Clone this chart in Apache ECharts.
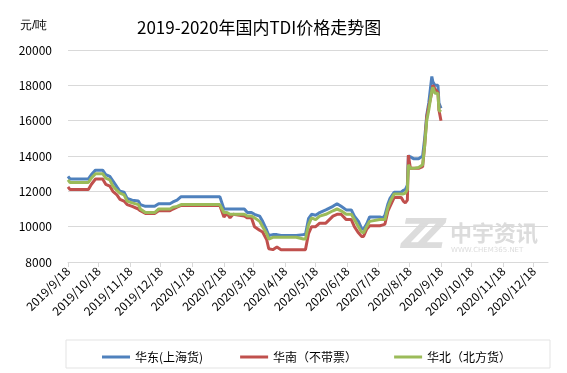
<!DOCTYPE html>
<html>
<head>
<meta charset="utf-8">
<script src="https://cdn.jsdelivr.net/npm/echarts@6/dist/echarts.min.js"></script>
<style>html,body{margin:0;padding:0;background:#fff}#c{width:567px;height:373px}</style>
</head>
<body>
<div id="c"></div>
<script>
var titleText = '2019-2020年国内TDI价格走势图';
var unitText = '元/吨';
var seriesNames = ['华东(上海货)', '华南（不带票）', '华北（北方货）'];
var dates = [
'2019-09-18','2019-09-20','2019-10-08','2019-10-11','2019-10-15','2019-10-22','2019-10-25','2019-10-29',
'2019-11-01','2019-11-05','2019-11-08','2019-11-12','2019-11-15','2019-11-20','2019-11-26','2019-11-28',
'2019-12-03','2019-12-12','2019-12-16','2019-12-27','2019-12-30','2020-01-03','2020-01-07','2020-02-14',
'2020-02-18','2020-02-21','2020-02-24','2020-02-27','2020-03-09','2020-03-12','2020-03-16','2020-03-19',
'2020-03-24','2020-03-27','2020-03-31','2020-04-02','2020-04-06','2020-04-10','2020-04-14','2020-04-29',
'2020-04-30','2020-05-06','2020-05-08','2020-05-11','2020-05-14','2020-05-18','2020-05-22','2020-05-28',
'2020-06-04','2020-06-08','2020-06-12','2020-06-17','2020-06-22','2020-06-25','2020-06-29','2020-07-02',
'2020-07-04','2020-07-07','2020-07-10','2020-07-20','2020-07-23','2020-07-25','2020-07-28','2020-07-30',
'2020-08-03','2020-08-10','2020-08-12','2020-08-14','2020-08-16','2020-08-17','2020-08-19','2020-08-22',
'2020-08-27','2020-08-31','2020-09-02','2020-09-04','2020-09-06','2020-09-09','2020-09-10','2020-09-12',
'2020-09-15','2020-09-16','2020-09-18'
];
var eastValues = [
12850,12700,12700,12950,13200,13200,12950,12850,
12600,12250,12000,11950,11600,11500,11450,11250,
11150,11150,11300,11300,11400,11500,11700,11700,
11000,11000,11000,11000,11000,10800,10800,10700,
10600,10300,9800,9500,9550,9550,9500,9500,
9600,9550,9550,10450,10700,10650,10800,10950,
11150,11300,11150,10950,10950,10600,10300,9900,
9850,10150,10550,10550,10500,10650,11300,11600,
11950,11950,12050,12100,12350,14000,13950,13850,
13850,14000,15000,16300,17000,18500,18200,18000,
18000,17000,16700
];
var southValues = [
12250,12100,12100,12400,12700,12700,12400,12300,
12000,11800,11550,11450,11250,11150,11000,10900,
10750,10750,10900,10900,11000,11100,11200,11200,
10550,10750,10500,10700,10600,10500,10500,10000,
9800,9700,9250,8750,8700,8850,8700,8700,
8700,8700,8700,9600,10000,10000,10200,10200,
10600,10700,10700,10400,10400,10000,9650,9450,
9450,9850,10050,10050,10100,10150,10900,11150,
11650,11650,11450,11350,11500,14050,13300,13300,
13300,13400,14600,16200,16800,17600,18000,17800,
17600,16600,16000
];
var northValues = [
12650,12500,12500,12750,13000,13000,12750,12650,
12300,12050,11900,11800,11450,11350,11250,11000,
10800,10800,11000,11000,11100,11150,11250,11250,
10800,10800,10700,10700,10700,10600,10600,10500,
10300,10000,9600,9300,9400,9400,9400,9400,
9400,9300,9300,10100,10500,10400,10600,10700,
10900,11000,10900,10700,10700,10400,10000,9700,
9650,10000,10300,10400,10400,10400,11100,11400,
11850,11850,11850,11900,12100,13500,13300,13300,
13350,13500,14600,16000,16600,17700,17900,17550,
17550,16600,16500
];
var yMin = 8000, yMax = 20000, yStep = 2000;
var tickMonths = [[2019,9],[2019,10],[2019,11],[2019,12],[2020,1],[2020,2],[2020,3],[2020,4],[2020,5],[2020,6],[2020,7],[2020,8],[2020,9],[2020,10],[2020,11],[2020,12]];

function ts(s){var p=s.split('-');return Date.UTC(+p[0],+p[1]-1,+p[2]);}
var tickValues = tickMonths.map(function(m){return Date.UTC(m[0],m[1]-1,18);});
function pairs(vals){return dates.map(function(d,i){return [ts(d),vals[i]];});}

var chart = echarts.init(document.getElementById('c'), null, {renderer:'canvas'});
var font = '"Noto Sans CJK SC", "Noto Sans", sans-serif';
var colors = ['#4f81bd','#c0504d','#9bbb59'];
chart.setOption({
  animation:false,
  color: colors,
  textStyle:{fontFamily:font},
  title:{text:titleText,left:132,top:14,textStyle:{fontSize:17,fontWeight:'normal',color:'#000',fontFamily:font}},
  grid:{left:68,right:19,top:50,bottom:111,containLabel:false},
  legend:{
    data:seriesNames, left:97, top:346, itemWidth:28, itemHeight:3, itemGap:37,
    icon:'rect', textStyle:{fontSize:12,color:'#000',fontFamily:font}
  },
  xAxis:{
    type:'value', min:ts('2019-09-18'), max:ts('2021-01-01'),
    axisLine:{show:true,lineStyle:{color:'#d9d9d9',width:1}},
    axisTick:{show:true,customValues:tickValues,length:5,lineStyle:{color:'#d9d9d9'}},
    splitLine:{show:false},
    axisLabel:{customValues:tickValues,rotate:45,fontSize:12,color:'#000',margin:7,fontFamily:font,
      formatter:function(v){var d=new Date(v);return d.getUTCFullYear()+'/'+(d.getUTCMonth()+1)+'/'+d.getUTCDate();}}
  },
  yAxis:{
    type:'value', min:yMin, max:yMax, interval:yStep,
    axisLine:{show:false}, axisTick:{show:false},
    splitLine:{lineStyle:{color:'#d9d9d9',width:1}},
    axisLabel:{fontSize:12,color:'#000',margin:16,fontFamily:font,formatter:function(v){return String(v);}}
  },
  graphic:[
    {type:'text',left:20,top:20,style:{text:unitText,fontSize:12,fill:'#000',font:'12px '+font}},
    {type:'rect',shape:{x:66,y:340,width:484,height:28},style:{fill:'none',stroke:'#e3e3e3',lineWidth:1}},
    {type:'text',left:401,top:218,style:{text:'Z',font:'italic bold 40px "DejaVu Sans", sans-serif',fill:'#dcdcdc'}},
    {type:'text',left:417,top:218,style:{text:'Z',font:'italic bold 40px "DejaVu Sans", sans-serif',fill:'#dcdcdc'}},
    {type:'text',left:450,top:222,style:{text:'中宇资讯',font:'bold 22px "Noto Sans CJK SC", sans-serif',fill:'#dcdcdc'}},
    {type:'text',left:451,top:247,style:{text:'WWW.CHEM365.NET',font:'7px "DejaVu Sans", sans-serif',fill:'#dcdcdc'}}
  ],
  series:[
    {name:seriesNames[0],type:'line',data:pairs(eastValues),showSymbol:false,lineStyle:{width:3},z:2},
    {name:seriesNames[1],type:'line',data:pairs(southValues),showSymbol:false,lineStyle:{width:3},z:3},
    {name:seriesNames[2],type:'line',data:pairs(northValues),showSymbol:false,lineStyle:{width:3},z:4}
  ]
});
</script>
</body>
</html>
